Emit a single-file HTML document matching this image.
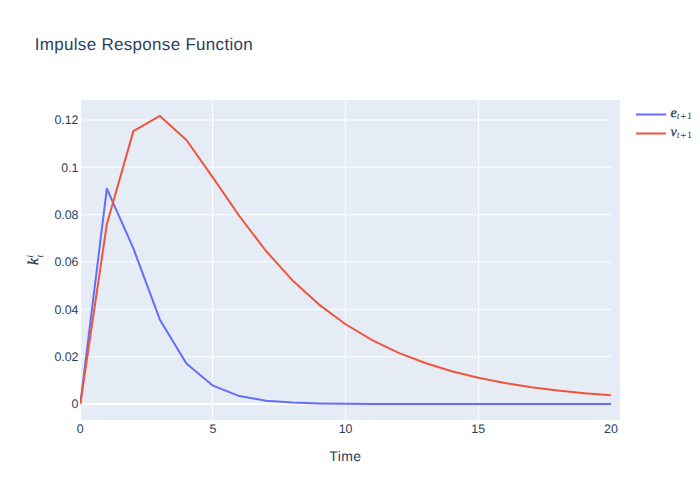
<!DOCTYPE html>
<html><head><meta charset="utf-8"><style>
html,body{margin:0;padding:0;background:#fff;width:700px;height:500px;overflow:hidden}
svg{display:block}
text{font-family:"Liberation Sans",sans-serif;fill:#2a3f5f;text-rendering:geometricPrecision}
.m{font-family:"Liberation Serif",serif;font-style:italic;stroke:#2a3f5f;stroke-width:0.35}
.s{font-family:"Liberation Serif",serif;font-style:italic}
</style></head><body>
<svg width="700" height="500" viewBox="0 0 700 500">
<rect x="0" y="0" width="700" height="500" fill="#fff"/>
<rect x="80" y="100" width="540" height="320" fill="#e5ecf6"/>
<g stroke="#fff" stroke-width="1" fill="none"><line x1="80" y1="356.67" x2="611" y2="356.67"/><line x1="80" y1="309.33" x2="611" y2="309.33"/><line x1="80" y1="262.00" x2="611" y2="262.00"/><line x1="80" y1="214.67" x2="611" y2="214.67"/><line x1="80" y1="167.33" x2="611" y2="167.33"/><line x1="80" y1="120.00" x2="611" y2="120.00"/><line x1="212.50" y1="100" x2="212.50" y2="420"/><line x1="345.50" y1="100" x2="345.50" y2="420"/><line x1="478.50" y1="100" x2="478.50" y2="420"/></g>
<g stroke="#fff" stroke-width="2" fill="none"><line x1="80" y1="404.00" x2="611" y2="404.00"/><line x1="80" y1="100" x2="80" y2="420"/></g>
<defs><clipPath id="cp"><rect x="80" y="100" width="540" height="320"/></clipPath></defs>
<g fill="none" stroke-width="2" stroke-linejoin="round" clip-path="url(#cp)">
<path d="M80.30,404.00L106.83,188.63L133.36,248.42L159.89,319.71L186.42,363.40L212.95,385.67L239.48,396.06L266.01,400.65L292.54,402.62L319.07,403.44L345.60,403.77L372.13,403.91L398.66,403.96L425.19,403.99L451.72,403.99L478.25,404.00L504.78,404.00L531.31,404.00L557.84,404.00L584.37,404.00L610.90,404.00" stroke="#636efa"/>
<path d="M80.30,404.00L106.83,224.26L133.36,131.12L159.89,115.92L186.42,139.96L212.95,177.59L239.48,216.26L266.01,250.99L292.54,280.39L319.07,304.61L345.60,324.26L372.13,340.10L398.66,352.82L425.19,363.03L451.72,371.20L478.25,377.74L504.78,382.98L531.31,387.18L557.84,390.53L584.37,393.22L610.90,395.37" stroke="#ef553b"/>
</g>
<g font-size="12.4"><text x="78.5" y="408.30" text-anchor="end">0</text><text x="78.5" y="360.97" text-anchor="end">0.02</text><text x="78.5" y="313.63" text-anchor="end">0.04</text><text x="78.5" y="266.30" text-anchor="end">0.06</text><text x="78.5" y="218.97" text-anchor="end">0.08</text><text x="78.5" y="171.63" text-anchor="end">0.1</text><text x="78.5" y="124.30" text-anchor="end">0.12</text><text x="80.30" y="433" text-anchor="middle">0</text><text x="212.95" y="433" text-anchor="middle">5</text><text x="345.60" y="433" text-anchor="middle">10</text><text x="478.25" y="433" text-anchor="middle">15</text><text x="610.90" y="433" text-anchor="middle">20</text></g>
<text x="34.8" y="50" font-size="17" letter-spacing="0.3">Impulse Response Function</text>
<text x="345.4" y="461" font-size="14" letter-spacing="0.45" text-anchor="middle">Time</text>
<g transform="translate(38,265) rotate(-90)">
<text class="m" x="0" y="0" font-size="15">k</text>
<text class="s" x="7.2" y="-5.2" font-size="10">i</text>
<text class="s" x="7.6" y="4.9" font-size="10">t</text>
</g>
<g stroke-width="2">
<line x1="636" y1="114.5" x2="666" y2="114.5" stroke="#636efa"/>
<line x1="636" y1="133.5" x2="666" y2="133.5" stroke="#ef553b"/>
</g>
<g>
<text class="m" x="670.6" y="117" font-size="14">e</text>
<text class="s" x="676.8" y="119" font-size="10">t</text>
<text x="680.2" y="119.6" font-size="11" style="font-family:'Liberation Serif',serif">+</text>
<text x="687" y="118.8" font-size="10" style="font-family:'Liberation Serif',serif">1</text>
<text class="m" x="670.6" y="136" font-size="14">v</text>
<text class="s" x="676.8" y="138" font-size="10">t</text>
<text x="680.2" y="138.6" font-size="11" style="font-family:'Liberation Serif',serif">+</text>
<text x="687" y="137.8" font-size="10" style="font-family:'Liberation Serif',serif">1</text>
</g>
</svg>
</body></html>
